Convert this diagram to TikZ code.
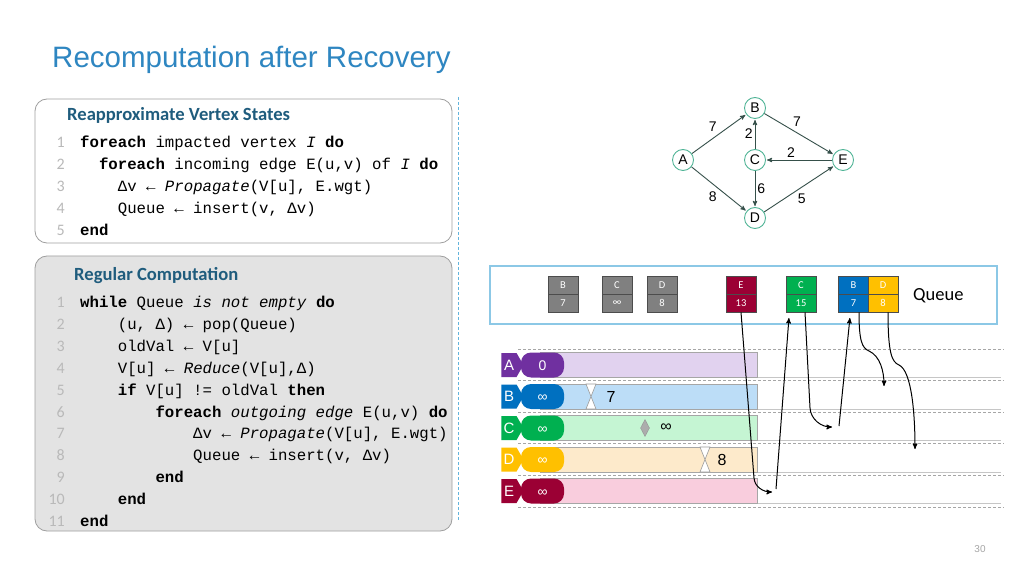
\documentclass[tikz,border=0pt]{standalone}
\usepackage{fontspec}
\setmainfont{Liberation Sans}
\setmonofont{Liberation Mono}
\newfontfamily\calib{Carlito}
\usepackage{tikz}
\usetikzlibrary{
        arrows,
        positioning,
        shapes,
        shapes.geometric,
        shapes.symbols
    }
\definecolor{ttlblue}{RGB}{46,134,193}
\definecolor{hdrblue}{RGB}{31,92,125}
\definecolor{sepblue}{RGB}{100,180,220}
\definecolor{qblue}{RGB}{140,200,230}
\definecolor{vtxgreen}{RGB}{80,180,150}
\definecolor{edgegray}{RGB}{54,80,74}
\definecolor{qgray}{RGB}{128,128,128}
\definecolor{lA}{HTML}{7030A0}
\definecolor{lB}{HTML}{0070C0}
\definecolor{lC}{HTML}{00B050}
\definecolor{lD}{HTML}{FFC000}
\definecolor{lE}{HTML}{9B0034}
\definecolor{bA}{HTML}{E1D2EF}
\definecolor{bB}{HTML}{BCDDF7}
\definecolor{bC}{HTML}{C5F5D3}
\definecolor{bD}{HTML}{FDEACB}
\definecolor{bE}{HTML}{F9CDDD}
\tikzset{>=stealth',shorten >=1pt,auto,node distance=2cm}
\tikzset{
    ttl/.style={font=\fontsize{29.5}{30}\selectfont, text=ttlblue, inner sep=0, anchor=base west},
    hdr/.style={font=\calib\bfseries\fontsize{18.6}{20}\selectfont, text=hdrblue, inner sep=0, anchor=base west},
    codebox/.style={rounded corners=12pt, draw=gray!75, line width=0.8pt},
    lnum/.style={font=\calib\fontsize{16}{18}\selectfont, text=gray!55, inner sep=0, anchor=base east},
    code/.style={font=\ttfamily\fontsize{15.7}{18}\selectfont, inner sep=0, anchor=base west},
    vtx/.style={circle, draw=vtxgreen, line width=0.9pt, fill=white, minimum size=21pt, inner sep=0, font=\fontsize{14}{14}\selectfont},
    gedge/.style={->, every edge/.style={draw=edgegray, line width=0.9pt}},
    wlab/.style={font=\fontsize{14}{14}\selectfont, inner sep=2pt},
    qcell/.style={minimum width=30pt, minimum height=18pt, inner sep=0, draw=black!70, line width=0.7pt, text=white, font=\calib\fontsize{10.5}{11}\selectfont},
    queuebox/.style={draw=qblue, line width=1.3pt},
    tag/.style={signal, signal to=east, signal pointer angle=120, minimum width=22pt, minimum height=24pt, inner sep=0, text=white, font=\fontsize{15}{15}\selectfont},
    pill/.style={rounded corners=10pt, minimum width=43pt, minimum height=25pt, inner sep=0, text height=10pt, text depth=0pt, text=white, font=\fontsize{14}{14}\selectfont},
    sep/.style={gray!70, dash pattern=on 3pt off 2pt, line width=0.7pt},
    hglass/.style={fill=white, draw=gray!80, line width=0.6pt},
    flow/.style={->, line width=1pt, black},
    evlab/.style={font=\fontsize{16}{16}\selectfont, inner sep=0}
}
\newcommand\codeln[5]{\node[lnum] (#1n) at (65,#2) {#3}; \node[code] (#1) at ({80+9.42*#4},#2) {#5};}
\newcommand\qcell[5]{\node[qcell,fill=#3] (#1t) at (#2,291) {#4}; \node[qcell,fill=#3] (#1) at (#2,273) {#5};}

\begin{document}
\begin{tikzpicture}[x=1pt,y=1pt]
    \useasboundingbox (0,0) rectangle (1024,576);
    \fill[white] (0,0) rectangle (1024,576);
    \node[ttl] (title) at (52,508) {Recomputation after Recovery};

    \draw[codebox, fill=white] (35,477) rectangle (452,333);
    \node[hdr] (h1) at (67,455) {Reapproximate Vertex States};
    \codeln{a1}{428.5}{1}{0}{\textbf{foreach} impacted vertex \textit{I} \textbf{do}}
    \codeln{a2}{406.6}{2}{2}{\textbf{foreach} incoming edge E(u,v) of \textit{I} \textbf{do}}
    \codeln{a3}{384.7}{3}{4}{Δv ← \textit{Propagate}(V[u], E.wgt)}
    \codeln{a4}{362.8}{4}{4}{Queue ← insert(v, Δv)}
    \codeln{a5}{340.9}{5}{0}{\textbf{end}}

    \draw[codebox, fill=gray!22] (35,320) rectangle (452,45);
    \node[hdr] (h2) at (74,295) {Regular Computation};
    \codeln{r1}{268.7}{1}{0}{\textbf{while} Queue \textit{is not empty} \textbf{do}}
    \codeln{r2}{246.8}{2}{4}{(u, Δ) ← pop(Queue)}
    \codeln{r3}{224.8}{3}{4}{oldVal ← V[u]}
    \codeln{r4}{202.9}{4}{4}{V[u] ← \textit{Reduce}(V[u],Δ)}
    \codeln{r5}{180.9}{5}{4}{\textbf{if} V[u] != oldVal \textbf{then}}
    \codeln{r6}{159.0}{6}{8}{\textbf{foreach} \textit{outgoing edge} E(u,v) \textbf{do}}
    \codeln{r7}{137.1}{7}{12}{Δv ← \textit{Propagate}(V[u], E.wgt)}
    \codeln{r8}{115.1}{8}{12}{Queue ← insert(v, Δv)}
    \codeln{r9}{93.2}{9}{8}{\textbf{end}}
    \codeln{r10}{71.2}{10}{4}{\textbf{end}}
    \codeln{r11}{49.3}{11}{0}{\textbf{end}}

    \draw[draw=sepblue, dash pattern=on 3pt off 2pt, line width=0.9pt] (458,479) -- (458,54);

    \node[vtx] (c) at (755,416) {C};
    \node[vtx] (b) [above of=c, node distance=52pt] {B};
    \node[vtx] (a) [left of=c, node distance=72pt] {A};
    \node[vtx] (e) [right of=c, node distance=88pt] {E};
    \node[vtx] (d) [below of=c, node distance=58pt] {D};
    \path[gedge, nodes={wlab}]
        (a) edge node {7} (b)
        (b) edge node[pos=0.38] {7} (e)
        (c) edge node {2} (b)
        (e) edge node[swap, pos=0.62] {2} (c)
        (c) edge node {6} (d)
        (a) edge node[swap] {8} (d)
        (d) edge node[swap, pos=0.45] {5} (e)
    ;

    \draw[queuebox] (490,310) rectangle (997,252);
    \qcell{qb1}{563}{qgray}{B}{7}
    \qcell{qc1}{617}{qgray}{C}{∞}
    \qcell{qd1}{662}{qgray}{D}{8}
    \qcell{qe2}{741}{lE}{E}{13}
    \qcell{qc2}{801}{lC}{C}{15}
    \qcell{qb3}{853.5}{lB}{B}{7}
    \qcell{qd3}{883}{lD}{D}{8}
    \node[font=\calib\fontsize{18.5}{20}\selectfont, anchor=base west, inner sep=0] (qlab) at (913,275) {Queue};

    \foreach \n/\v [count=\i] in {A/0,B/∞,C/∞,D/∞,E/∞}{
        \pgfmathsetmacro\yc{211-31.5*(\i-1)}
        \draw[sep] (518,\yc+16) -- (1005,\yc+16);
        \draw[gray!45, line width=0.7pt] (757,\yc-12.5) -- (1002,\yc-12.5);
        \draw[fill=b\n, draw=gray!70, line width=0.6pt] (540,\yc-12.5) rectangle (757,\yc+12.5);
        \node[pill, fill=l\n] (p\n) at (542.5,\yc) {\v};
        \node[tag, fill=l\n] (t\n) at (509,\yc) {\n};
    }
    \draw[sep] (518,69) -- (1005,69);

    \draw[hglass] (586,192) -- (596,192) -- (586,167) -- (596,167) -- cycle;
    \node[evlab] (vb) at (611,179.5) {7};
    \node[diamond, aspect=0.55, fill=gray!65, draw=gray!85, minimum width=9pt, minimum height=17pt, inner sep=0] (mc) at (645,148) {};
    \node[evlab] (vc) at (666,148) {∞};
    \draw[hglass] (700,129) -- (710,129) -- (700,104) -- (710,104) -- cycle;
    \node[evlab] (vd) at (722,116.5) {8};

    \coordinate (eIn) at (773,84);
    \coordinate (eOut) at (776,87);
    \coordinate (cUp) at (789,259);
    \coordinate (cIn) at (833,149);
    \coordinate (cOut) at (839,150);
    \coordinate (bUp) at (850,259);
    \coordinate (bIn) at (884,189);
    \coordinate (dIn) at (915,126);
    \draw[flow] (qe2.south) -- (754,98) to[out=-86,in=180] (eIn);
    \draw[flow] (eOut) -- (cUp);
    \draw[flow] ([xshift=4pt]qc2.south) -- (810,168) to[out=-86,in=180] (cIn);
    \draw[flow] (cOut) -- (bUp);
    \draw[flow] ([xshift=5.5pt]qb3.south) .. controls (859,235) and (862,228) .. (869,225) .. controls (880,220) and (884,205) .. (bIn);
    \draw[flow] ([xshift=5pt]qd3.south) .. controls (888,222) and (892,214) .. (899,211) .. controls (912,205) and (915,160) .. (dIn);

    \node[font=\fontsize{10}{10}\selectfont, text=gray!70] (pg) at (980,27) {30};
\end{tikzpicture}
\end{document}
